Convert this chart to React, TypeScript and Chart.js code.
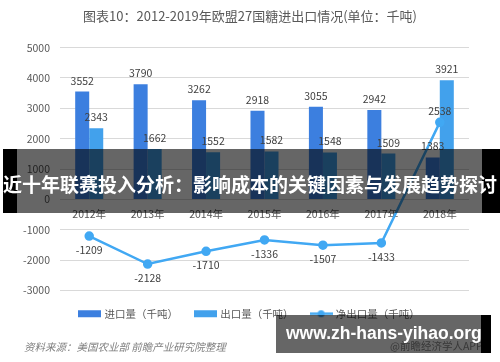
import React, { useEffect, useRef } from "react";
import { Chart, registerables } from "chart.js";

Chart.register(...registerables);

const categories = ["2012年", "2013年", "2014年", "2015年", "2016年", "2017年", "2018年"];
const importValues = [3552, 3790, 3262, 2918, 3055, 2942, 1383];
const exportValues = [2343, 1662, 1552, 1582, 1548, 1509, 3921];
const netExportValues = [-1209, -2128, -1710, -1336, -1507, -1433, 2538];
const seriesNames = ["进口量（千吨）", "出口量（千吨）", "净出口量（千吨）"];
const yMin = -3000;
const yMax = 5000;
const yStep = 1000;
const titleText = "图表10：2012-2019年欧盟27国糖进出口情况(单位：千吨)";
const sourceText = "资料来源：美国农业部 前瞻产业研究院整理";
const bannerText = "近十年联赛投入分析：影响成本的关键因素与发展趋势探讨";
const siteText = "www.zh-hans-yihao.org";
const appText = "@前瞻经济学人APP";

const IMPORT_COLOR = "#3C7FDF";
const EXPORT_COLOR = "#42A1EC";
const NET_COLOR = "#41A8F3";
const TEXT_COLOR = "#595959";
const LABEL_COLOR = "#404040";
const FONT = '"Noto Sans CJK SC", "Liberation Sans", sans-serif';

function makeSwatch(color: string, isLine: boolean): HTMLCanvasElement {
  const c = document.createElement("canvas");
  c.width = 23;
  c.height = 9;
  const ctx = c.getContext("2d")!;
  if (isLine) {
    ctx.strokeStyle = color;
    ctx.lineWidth = 2.5;
    ctx.beginPath();
    ctx.moveTo(0, 4.5);
    ctx.lineTo(23, 4.5);
    ctx.stroke();
    ctx.fillStyle = color;
    ctx.beginPath();
    ctx.arc(11.5, 4.5, 3.5, 0, Math.PI * 2);
    ctx.fill();
  } else {
    ctx.fillStyle = color;
    ctx.fillRect(0, 1, 23, 7);
  }
  return c;
}

const valueLabels = {
  id: "valueLabels",
  afterDatasetsDraw(chart: any) {
    const ctx = chart.ctx;
    ctx.save();
    ctx.font = `10.5px ${FONT}`;
    ctx.fillStyle = LABEL_COLOR;
    ctx.textAlign = "center";
    ctx.textBaseline = "middle";
    chart.data.datasets.forEach((ds: any, di: number) => {
      const meta = chart.getDatasetMeta(di);
      meta.data.forEach((el: any, i: number) => {
        const v = ds.data[i];
        let y: number;
        if (ds.type === "line") {
          y = v >= 0 ? el.y - 11 : el.y + 14;
        } else {
          y = el.y - 11;
        }
        ctx.fillText(String(v), el.x, y);
      });
    });
    ctx.restore();
  },
};

export default function App() {
  const ref = useRef<HTMLCanvasElement>(null);

  useEffect(() => {
    const swatches = [
      makeSwatch(IMPORT_COLOR, false),
      makeSwatch(EXPORT_COLOR, false),
      makeSwatch(NET_COLOR, true),
    ];
    const chart = new Chart(ref.current!, {
      type: "bar",
      data: {
        labels: categories,
        datasets: [
          {
            type: "bar",
            label: seriesNames[0],
            data: importValues,
            backgroundColor: IMPORT_COLOR,
            categoryPercentage: 0.48,
            barPercentage: 1.0,
            order: 1,
          },
          {
            type: "bar",
            label: seriesNames[1],
            data: exportValues,
            backgroundColor: EXPORT_COLOR,
            categoryPercentage: 0.48,
            barPercentage: 1.0,
            order: 1,
          },
          {
            type: "line",
            label: seriesNames[2],
            data: netExportValues,
            borderColor: NET_COLOR,
            backgroundColor: NET_COLOR,
            pointBackgroundColor: NET_COLOR,
            pointBorderColor: NET_COLOR,
            pointRadius: 3.5,
            borderWidth: 2.5,
            tension: 0,
            order: 0,
          } as any,
        ],
      },
      options: {
        animation: false,
        responsive: false,
        maintainAspectRatio: false,
        layout: { padding: { left: 0, right: 0, top: 0, bottom: 33 } },
        plugins: {
          tooltip: { enabled: false },
          title: {
            display: true,
            text: titleText,
            color: TEXT_COLOR,
            font: { size: 13, family: FONT, weight: "normal" },
            padding: { top: 8, bottom: 24 },
          },
          legend: {
            display: true,
            position: "bottom",
            labels: {
              usePointStyle: true,
              pointStyleWidth: 19,
              boxHeight: 8,
              padding: 18,
              color: TEXT_COLOR,
              font: { size: 10.5, family: FONT },
              sort: (a: any, b: any) => a.datasetIndex - b.datasetIndex,
              generateLabels: (ch: any) => {
                const items = (Chart as any).defaults.plugins.legend.labels.generateLabels(ch);
                return items.map((it: any) => ({ ...it, pointStyle: swatches[it.datasetIndex] }));
              },
            },
          },
        },
        scales: {
          x: {
            type: "category",
            position: { y: 0 } as any,
            grid: { display: false },
            border: { display: false },
            ticks: { color: TEXT_COLOR, font: { size: 10.5, family: FONT }, padding: 0, maxRotation: 0 },
          },
          y: {
            type: "linear",
            position: "left",
            min: yMin,
            max: yMax,
            ticks: {
              stepSize: yStep,
              color: TEXT_COLOR,
              font: { size: 10.5, family: FONT },
              padding: 10,
              callback: (v: any) => String(v),
            },
            grid: { color: "#D9D9D9", drawTicks: false, lineWidth: 1 },
            border: { display: false },
            afterFit: (s: any) => {
              s.width = 60;
            },
          },
          yRight: {
            type: "linear",
            position: "right",
            display: true,
            grid: { display: false },
            border: { display: false },
            ticks: { display: false },
            afterFit: (s: any) => {
              s.width = 31;
            },
          },
        },
      } as any,
      plugins: [valueLabels],
    });
    return () => chart.destroy();
  }, []);

  return (
    <div
      style={{
        position: "absolute",
        left: 0,
        top: 0,
        width: 500,
        height: 362,
        background: "#ffffff",
        overflow: "hidden",
        fontFamily: FONT,
      }}
    >
      <canvas ref={ref} width={500} height={362} style={{ display: "block", width: 500, height: 362 }} />
      <div
        style={{
          position: "absolute",
          left: 24,
          top: 339,
          fontSize: 10.5,
          fontStyle: "italic",
          color: "#7F7F7F",
          whiteSpace: "nowrap",
          lineHeight: "16px",
        }}
      >
        {sourceText}
      </div>
      <div
        style={{
          position: "absolute",
          left: 390,
          top: 338,
          fontSize: 10.5,
          color: "#8C8C8C",
          whiteSpace: "nowrap",
          lineHeight: "16px",
        }}
      >
        {appText}
      </div>
      {/* top banner */}
      <div style={{ position: "absolute", left: 3, top: 149, width: 14, height: 64, background: "#000" }} />
      <div style={{ position: "absolute", left: 17, top: 149, width: 465, height: 64, background: "rgba(0,0,0,0.6)" }} />
      <div style={{ position: "absolute", left: 482, top: 149, width: 18, height: 64, background: "#000" }} />
      <div
        style={{
          position: "absolute",
          left: 3,
          top: 149,
          height: 64,
          lineHeight: "70px",
          fontSize: 19,
          fontWeight: "bold",
          color: "#fff",
          whiteSpace: "nowrap",
        }}
      >
        {bannerText}
      </div>
      {/* bottom banner */}
      <div style={{ position: "absolute", left: 276, top: 315, width: 205, height: 38, background: "rgba(0,0,0,0.6)" }} />
      <div style={{ position: "absolute", left: 481, top: 315, width: 10, height: 38, background: "#000" }} />
      <div
        style={{
          position: "absolute",
          left: 286,
          top: 315,
          height: 38,
          lineHeight: "36px",
          fontSize: 17.5,
          fontWeight: "bold",
          fontFamily: '"Liberation Sans", sans-serif',
          color: "#fff",
          whiteSpace: "nowrap",
        }}
      >
        {siteText}
      </div>
    </div>
  );
}
